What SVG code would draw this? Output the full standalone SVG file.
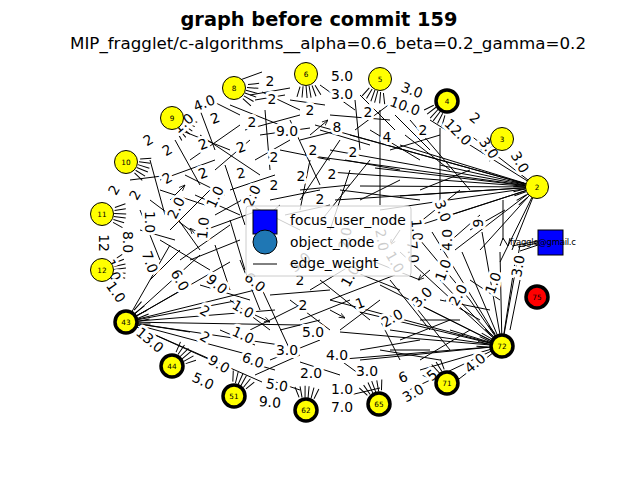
<svg xmlns="http://www.w3.org/2000/svg" width="640" height="480" viewBox="0 0 640 480">
<style>
.e{stroke:#000;stroke-width:1;fill:none}
.a{stroke:#000;stroke-width:1;fill:none;marker-end:url(#ar)}
.lb{font-family:"DejaVu Sans",sans-serif;font-size:13.9px;fill:#000;stroke:#fff;stroke-width:6;paint-order:stroke;stroke-linejoin:round;text-anchor:middle;dominant-baseline:central}
.nd{fill:#ff0;stroke:#000;stroke-width:1}
.nt{fill:#ff0;stroke:#000;stroke-width:3.5}
.nl{font-family:"DejaVu Sans",sans-serif;font-size:7.3px;fill:#000;text-anchor:middle;dominant-baseline:central}
.lg{font-family:"DejaVu Sans",sans-serif;font-size:13.9px;fill:#000}
</style>
<defs>
<marker id="ar" viewBox="0 0 10 10" refX="10" refY="5" markerWidth="6" markerHeight="6" orient="auto"><path d="M0 1 L10 5 L0 9" fill="none" stroke="#000" stroke-width="1.3"/></marker>
<g id="spk" class="e"><path d="M12 -8 L22 -13 M12 -5 L23 -8 M12 -2 L24 -3 M12 1 L24 1 M12 4 L23 6 M12 7 L22 11"/></g>
</defs>
<rect width="640" height="480" fill="#fff"/>
<g id="connectors">
<path class="e" d="M537 187 L330 150 M537 187 L330 172 M537 187 L335 200 M537 187 L350 135 M537 187 L360 186 M537 187 L380 210 M537 187 L400 145 M537 187 L400 196 M537 187 L420 225 M537 187 L440 165 M537 187 L450 215 M537 187 L470 135 M537 187 L305 155 M537 187 L315 125 M537 187 L455 250 M537 187 L480 250 M537 187 L500 262 M537 187 L512 250 M537 187 L430 120 M537 187 L375 168"/>
<path class="e" d="M502 346 L330 300 M502 346 L340 332 M502 346 L360 360 M502 346 L380 285 M502 346 L390 330 M502 346 L400 252 M502 346 L410 300 M502 346 L420 370 M502 346 L432 232 M502 346 L440 280 M502 346 L450 330 M502 346 L462 252 M502 346 L470 300 M502 346 L482 232 M502 346 L500 252 M502 346 L515 262 M502 346 L520 245 M502 346 L455 382 M502 346 L332 360 M502 346 L360 312 M502 346 L405 392"/>
<path class="e" d="M126 322 L170 245 M126 322 L200 255 M126 322 L230 262 M126 322 L255 290 M126 322 L275 310 M126 322 L300 325 M126 322 L280 345 M126 322 L250 355 M126 322 L215 362 M126 322 L190 332 M126 322 L240 300 M126 322 L182 290 M126 322 L262 382"/>
<path class="e" d="M538 243 L518 247 M538 245 L520 251 M538 241 L512 246 M500 246 L503 238 L508 246 L510 238"/>
<path class="e" d="M180 130 L230 150 M190 160 L240 125 M200 135 L260 175 M215 170 L250 140 M230 105 L280 125 M245 130 L300 115 M255 160 L290 140 M265 110 L270 170 M280 150 L330 160 M290 120 L320 185 M300 140 L340 130 M310 160 L300 210 M230 190 L275 175 M195 195 L240 215 M160 180 L215 160 M150 200 L190 230 M170 230 L210 190 M205 230 L260 210 M240 200 L300 230 M270 200 L320 190 M285 215 L330 205 M150 160 L165 215 M175 140 L200 185 M225 165 L245 225 M200 110 L215 150 M262 92 L300 110 M320 130 L370 145 M330 115 L390 120 M345 160 L400 170 M355 100 L360 150 M370 130 L420 160 M380 110 L380 205 M390 150 L440 135 M400 180 L360 200 M320 222 L370 160 M340 190 L420 200 M440 128 L440 210 M410 120 L470 190 M350 170 L330 230"/>
<path class="e" d="M140 210 L160 260 M160 240 L210 270 M175 215 L200 250 M190 260 L240 240 M215 245 L230 290 M230 220 L245 270 M200 285 L250 300 M240 260 L260 310 M150 280 L180 250 M230 300 L270 330 M260 285 L290 350 M250 330 L300 305 M270 360 L320 340 M290 300 L330 330 M300 320 L350 300 M320 280 L370 320 M340 330 L380 300 M350 270 L400 290 M360 350 L420 340 M380 320 L400 360 M390 280 L430 330 M410 300 L450 350 M300 362 L340 375 M340 360 L362 376 M400 340 L450 320 M420 360 L470 330 M240 360 L275 370 M220 330 L255 345 M270 380 L300 390 M440 250 L480 215 M420 240 L470 300 M503 200 L503 240 M520 280 L510 330"/>
<path class="e" d="M160 190 L205 205 M185 175 L225 195 M210 100 L240 115 M255 100 L285 95 M240 80 L262 72 M250 95 L290 88 M290 100 L325 105 M320 85 L355 110 M360 95 L395 130 M395 115 L430 150 M300 190 L350 185 M260 135 L310 128 M215 215 L260 190 M130 180 L170 175 M140 230 L175 240 M180 260 L230 225 M270 295 L330 290 M310 290 L360 260 M330 300 L395 275 M370 260 L420 280 M440 300 L490 310 M460 320 L420 320 M380 350 L440 360 M280 330 L320 320 M255 375 L300 355 M350 395 L380 388 M390 350 L430 350 M470 280 L500 300 M480 320 L445 300 M340 140 L300 200 M355 130 L395 100 M405 135 L450 170 M420 190 L470 170 M460 190 L410 230 M470 230 L505 210"/>
<line class="a" x1="170" y1="200" x2="185" y2="185"/>
<line class="a" x1="280" y1="205" x2="262" y2="220"/>
<line class="a" x1="310" y1="135" x2="328" y2="120"/>
<line class="a" x1="400" y1="230" x2="390" y2="245"/>
<line class="a" x1="430" y1="270" x2="418" y2="280"/>
<line class="a" x1="330" y1="310" x2="345" y2="318"/>
<line class="a" x1="200" y1="240" x2="190" y2="228"/>
<line class="a" x1="255" y1="315" x2="270" y2="322"/>
<use href="#spk" transform="translate(306,74) rotate(85)"/>
<use href="#spk" transform="translate(380,79) rotate(110)"/>
<use href="#spk" transform="translate(447,101) rotate(132)"/>
<use href="#spk" transform="translate(502,139) rotate(150)"/>
<use href="#spk" transform="translate(537,187) rotate(166)"/>
<use href="#spk" transform="translate(502,346) rotate(210)"/>
<use href="#spk" transform="translate(447,383) rotate(228)"/>
<use href="#spk" transform="translate(379,404) rotate(250)"/>
<use href="#spk" transform="translate(306,410) rotate(275)"/>
<use href="#spk" transform="translate(234,396) rotate(299)"/>
<use href="#spk" transform="translate(172,366) rotate(320)"/>
<use href="#spk" transform="translate(126,322) rotate(338)"/>
<use href="#spk" transform="translate(102,270) rotate(353)"/>
<use href="#spk" transform="translate(102,214) rotate(7)"/>
<use href="#spk" transform="translate(126,162) rotate(22)"/>
<use href="#spk" transform="translate(172,118) rotate(40)"/>
<use href="#spk" transform="translate(234,88) rotate(20)"/>
</g>
<g id="edge-labels">
<text class="lb" x="270" y="81">2</text>
<text class="lb" x="342" y="76">5.0</text>
<text class="lb" transform="translate(412,90) rotate(20)">3.0</text>
<text class="lb" transform="translate(204,103) rotate(-22)">4.0</text>
<text class="lb" x="272" y="99">2</text>
<text class="lb" x="342" y="94">3.0</text>
<text class="lb" transform="translate(405,106) rotate(20)">10.0</text>
<text class="lb" transform="translate(475,118) rotate(40)">2</text>
<text class="lb" transform="translate(458,132) rotate(45)">12.0</text>
<text class="lb" transform="translate(520,162) rotate(60)">3.0</text>
<text class="lb" transform="translate(489,148) rotate(55)">3.0</text>
<text class="lb" transform="translate(183,123) rotate(-40)">1.0</text>
<text class="lb" transform="translate(215,118) rotate(-20)">2</text>
<text class="lb" x="252" y="122">2</text>
<text class="lb" x="310" y="110">2</text>
<text class="lb" x="287" y="131">9.0</text>
<text class="lb" x="337" y="127">8</text>
<text class="lb" x="368" y="112">2</text>
<text class="lb" x="387" y="137">4</text>
<text class="lb" x="423" y="130">2</text>
<text class="lb" transform="translate(148,140) rotate(-30)">2</text>
<text class="lb" transform="translate(167,150) rotate(-30)">2</text>
<text class="lb" transform="translate(203,144) rotate(-20)">2</text>
<text class="lb" transform="translate(241,147) rotate(-20)">2</text>
<text class="lb" x="274" y="157">2</text>
<text class="lb" x="313" y="150">2</text>
<text class="lb" x="353" y="152">2</text>
<text class="lb" transform="translate(203,173) rotate(-20)">2</text>
<text class="lb" transform="translate(241,173) rotate(-10)">2</text>
<text class="lb" x="301" y="176">2</text>
<text class="lb" x="332" y="174">2</text>
<text class="lb" x="274" y="185">2</text>
<text class="lb" x="320" y="199">2</text>
<text class="lb" transform="translate(167,178) rotate(-30)">2</text>
<text class="lb" transform="translate(135,195) rotate(-60)">2</text>
<text class="lb" transform="translate(114,190) rotate(-60)">2</text>
<text class="lb" transform="translate(176,208) rotate(-65)">2.0</text>
<text class="lb" transform="translate(215,197) rotate(-65)">1.0</text>
<text class="lb" transform="translate(252,196) rotate(-65)">2.0</text>
<text class="lb" transform="translate(443,211) rotate(70)">3.0</text>
<text class="lb" transform="translate(417,230) rotate(85)">1.0</text>
<text class="lb" transform="translate(413,252) rotate(85)">7.0</text>
<text class="lb" transform="translate(447,240) rotate(-90)">4.0</text>
<text class="lb" transform="translate(478,223) rotate(-90)">9</text>
<text class="lb" transform="translate(443,270) rotate(-70)">1.0</text>
<text class="lb" transform="translate(458,295) rotate(-60)">2.0</text>
<text class="lb" transform="translate(493,283) rotate(-70)">1.0</text>
<text class="lb" transform="translate(518,266) rotate(-80)">3.0</text>
<text class="lb" transform="translate(422,297) rotate(-45)">3.0</text>
<text class="lb" transform="translate(392,318) rotate(-30)">2.0</text>
<text class="lb" transform="translate(360,303) rotate(-20)">1</text>
<text class="lb" transform="translate(350,276) rotate(-60)">1.0</text>
<text class="lb" x="303" y="305">2</text>
<text class="lb" x="313" y="332">5.0</text>
<text class="lb" x="337" y="355">4.0</text>
<text class="lb" x="367" y="371">3.0</text>
<text class="lb" x="311" y="373">2.0</text>
<text class="lb" transform="translate(403,377) rotate(-20)">6</text>
<text class="lb" x="342" y="389">1.0</text>
<text class="lb" x="342" y="407">7.0</text>
<text class="lb" transform="translate(413,393) rotate(-30)">3.0</text>
<text class="lb" transform="translate(475,363) rotate(-40)">4.0</text>
<text class="lb" transform="translate(432,375) rotate(-40)">5</text>
<text class="lb" transform="translate(217,284) rotate(40)">9.0</text>
<text class="lb" transform="translate(255,282) rotate(40)">6.0</text>
<text class="lb" x="300" y="280">2</text>
<text class="lb" transform="translate(243,309) rotate(30)">1.0</text>
<text class="lb" transform="translate(243,335) rotate(25)">1.0</text>
<text class="lb" x="287" y="350">3.0</text>
<text class="lb" transform="translate(205,311) rotate(30)">2</text>
<text class="lb" transform="translate(205,337) rotate(30)">2</text>
<text class="lb" transform="translate(219,364) rotate(30)">9.0</text>
<text class="lb" transform="translate(253,360) rotate(20)">6.0</text>
<text class="lb" transform="translate(277,385) rotate(10)">5.0</text>
<text class="lb" transform="translate(270,402) rotate(5)">9.0</text>
<text class="lb" transform="translate(203,381) rotate(25)">5.0</text>
<text class="lb" transform="translate(150,340) rotate(40)">13.0</text>
<text class="lb" transform="translate(203,228) rotate(-85)">1.0</text>
<text class="lb" transform="translate(150,222) rotate(90)">1.0</text>
<text class="lb" transform="translate(128,242) rotate(90)">8.0</text>
<text class="lb" transform="translate(104,243) rotate(90)">12</text>
<text class="lb" transform="translate(150,262) rotate(70)">7.0</text>
<text class="lb" transform="translate(180,280) rotate(60)">6.0</text>
<text class="lb" transform="translate(113,270) rotate(70)">1.0</text>
<text class="lb" transform="translate(116,292) rotate(55)">1.0</text>
<text class="lb" transform="translate(345,238) rotate(-80)">2.0</text>
<text class="lb" transform="translate(382,240) rotate(80)">2.0</text>
<text class="lb" transform="translate(300,262) rotate(-40)">3.0</text>
<text class="lb" transform="translate(395,262) rotate(60)">1.0</text>
</g>
<g id="node-6"><circle class="nd" cx="306" cy="74" r="11.5"/><text class="nl" x="306" y="74">6</text></g>
<g id="node-5"><circle class="nd" cx="380" cy="79" r="11.5"/><text class="nl" x="380" y="79">5</text></g>
<g id="node-4"><circle class="nt" cx="447" cy="101" r="11"/><text class="nl" x="447" y="101">4</text></g>
<g id="node-3"><circle class="nd" cx="502" cy="139" r="11.5"/><text class="nl" x="502" y="139">3</text></g>
<g id="node-2"><circle class="nd" cx="537" cy="187" r="11.5"/><text class="nl" x="537" y="187">2</text></g>
<g id="node-fraggle"><rect x="538" y="230" width="25" height="25" fill="#00f" stroke="#000" stroke-width="1"/><text x="510" y="245" font-family="DejaVu Sans, sans-serif" font-size="8.5" textLength="66" fill="#000">fraggle@gmail.c</text></g>
<g id="node-75"><circle cx="537" cy="297" r="11" fill="#f00" stroke="#000" stroke-width="3.5"/><text class="nl" x="537" y="297">75</text></g>
<g id="node-72"><circle class="nt" cx="502" cy="346" r="11"/><text class="nl" x="502" y="346">72</text></g>
<g id="node-71"><circle class="nt" cx="447" cy="383" r="11"/><text class="nl" x="447" y="383">71</text></g>
<g id="node-65"><circle class="nt" cx="379" cy="404" r="11"/><text class="nl" x="379" y="404">65</text></g>
<g id="node-62"><circle class="nt" cx="306" cy="410" r="11"/><text class="nl" x="306" y="410">62</text></g>
<g id="node-51"><circle class="nt" cx="234" cy="396" r="11"/><text class="nl" x="234" y="396">51</text></g>
<g id="node-44"><circle class="nt" cx="172" cy="366" r="11"/><text class="nl" x="172" y="366">44</text></g>
<g id="node-43"><circle class="nt" cx="126" cy="322" r="11"/><text class="nl" x="126" y="322">43</text></g>
<g id="node-12"><circle class="nd" cx="102" cy="270" r="11.5"/><text class="nl" x="102" y="270">12</text></g>
<g id="node-11"><circle class="nd" cx="102" cy="214" r="11.5"/><text class="nl" x="102" y="214">11</text></g>
<g id="node-10"><circle class="nd" cx="126" cy="162" r="11.5"/><text class="nl" x="126" y="162">10</text></g>
<g id="node-9"><circle class="nd" cx="172" cy="118" r="11.5"/><text class="nl" x="172" y="118">9</text></g>
<g id="node-8"><circle class="nd" cx="234" cy="88" r="11.5"/><text class="nl" x="234" y="88">8</text></g>
<g id="legend">
<rect x="246" y="206" width="165" height="70" rx="3" fill="#fff" fill-opacity="0.8" stroke="#ccc" stroke-width="1"/>
<rect x="253" y="210" width="24" height="24" fill="#00f" stroke="#000" stroke-width="1"/>
<circle cx="265" cy="242" r="12" fill="#1f77b4" stroke="#000" stroke-width="1"/>
<line x1="253" y1="264" x2="277" y2="264" stroke="#000" stroke-width="1"/>
<text class="lg" x="290" y="225">focus_user_node</text>
<text class="lg" x="290" y="247">object_node</text>
<text class="lg" x="290" y="268">edge_weight</text>
</g>
<g id="titles">
<text x="319" y="26" text-anchor="middle" font-family="DejaVu Sans, sans-serif" font-size="19.5" font-weight="bold" textLength="277" lengthAdjust="spacingAndGlyphs">graph before commit 159</text>
<text x="328" y="49" text-anchor="middle" font-family="DejaVu Sans, sans-serif" font-size="16.7" textLength="516" lengthAdjust="spacingAndGlyphs">MIP_fragglet/c-algorithms__alpha=0.6_beta=0.2_gamma=0.2</text>
</g>
</svg>
